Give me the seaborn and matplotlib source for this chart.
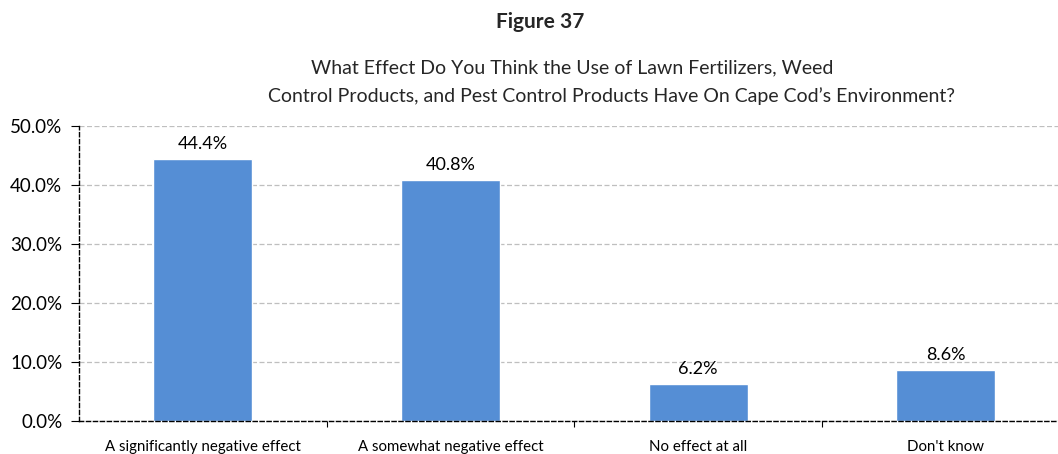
import matplotlib
matplotlib.use("Agg")
import matplotlib.pyplot as plt
import seaborn as sns
import pandas as pd
from matplotlib.ticker import FuncFormatter, FixedLocator

categories = ["A significantly negative effect", "A somewhat negative effect",
              "No effect at all", "Don't know"]
values = [44.4, 40.8, 6.2, 8.6]
yticks = [0, 10, 20, 30, 40, 50]

sns.set_theme(style="white")
plt.rcParams["font.family"] = ["Lato", "DejaVu Sans"]

df = pd.DataFrame({"category": categories, "value": values})

fig = plt.figure(figsize=(10.58, 4.54), dpi=100)
ax = fig.add_axes([0.0747, 0.0727, 1.011 - 0.0747, 0.7225 - 0.0727])

sns.barplot(data=df, x="category", y="value", color="#558ED5", width=0.40,
            saturation=1, ax=ax, zorder=2)

ax.set_xlim(-0.5, 3.5)
ax.set_ylim(0, 50)
ax.set_yticks(yticks)
ax.yaxis.set_major_formatter(FuncFormatter(lambda v, p: f"{v:.1f}%"))
ax.grid(axis="y", color="#BFBFBF", linestyle=(0, (4, 2)), linewidth=0.9, zorder=0)
ax.set_xlabel("")
ax.set_ylabel("")

for side in ["top", "right"]:
    ax.spines[side].set_visible(False)
for side in ["left", "bottom"]:
    ax.spines[side].set_color("black")
    ax.spines[side].set_linestyle((0, (3, 2)))
    ax.spines[side].set_linewidth(1.0)

ax.tick_params(axis="y", left=True, length=6, width=0.8, color="black",
               labelsize=13.5, pad=6, labelcolor="black")
ax.tick_params(axis="x", bottom=False, length=0, labelsize=10.8, pad=14,
               labelcolor="black")
ax.xaxis.set_minor_locator(FixedLocator([0.5, 1.5, 2.5]))
ax.tick_params(axis="x", which="minor", bottom=True, length=4, width=0.8,
               color="black", direction="out")

for i, v in enumerate(values):
    ax.text(i, v + 1.2, f"{v:.1f}%", ha="center", va="bottom", fontsize=13,
            color="black")

fig.text(0.511, 0.952, "Figure 37", ha="center", va="center", fontsize=15,
         fontweight="bold")
fig.text(0.541, 0.85, "What Effect Do You Think the Use of Lawn Fertilizers, Weed",
         ha="center", va="center", fontsize=14)
fig.text(0.578, 0.788,
         "Control Products, and Pest Control Products Have On Cape Cod\u2019s Environment?",
         ha="center", va="center", fontsize=14)

fig.savefig("out.png", dpi=100)
